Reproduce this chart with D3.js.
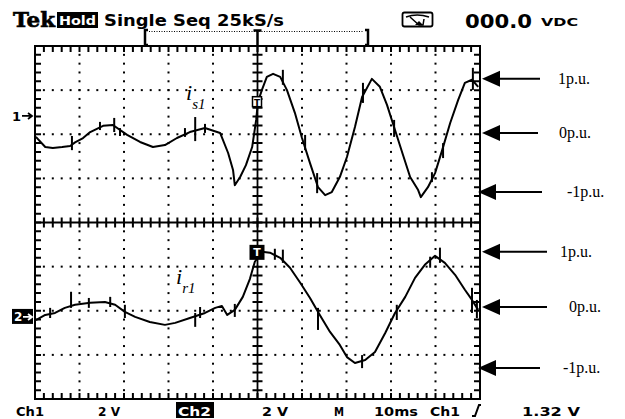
<!DOCTYPE html>
<html>
<head>
<meta charset="utf-8">
<script src="https://cdn.jsdelivr.net/npm/d3@7"></script>
<style>
  html, body { margin: 0; padding: 0; background: #fff; }
  svg { display: block; }
</style>
</head>
<body>
<svg id="scope" width="625" height="419"></svg>
<script>
// ---- acquisition settings (status line) ----
const timePerDiv = 10;     // ms / div
const voltsPerDiv = 2;     // V / div, both channels
const ch1Ground = 4.83;    // channel reference positions, screen volts
const ch2Ground = -4.28;

// ---- channel 1 : stator current i_s1  [time ms, volts from ch1 reference] ----
const ch1Trace = [
  [0.2,-0.95],[2.3,-1.41],[4.0,-1.45],[6.1,-1.41],[7.9,-1.36],[9.0,-1.2],[10.8,-1.0],
  [12.4,-0.73],[15.3,-0.45],[17.5,-0.41],[20.7,-0.86],[23.6,-1.18],[26.5,-1.41],
  [29.2,-1.32],[31.9,-1.0],[34.8,-0.73],[38.2,-0.55],[41.6,-0.77],[43.4,-1.68],
  [44.5,-2.45],[44.9,-3.14],[46.1,-2.77],[47.4,-2.23],[48.8,-1.41],[49.7,-0.18],
  [50.1,0.64],[51.0,1.18],[52.1,1.77],[53.5,1.91],[55.1,1.77],[56.6,1.18],[58.4,0.14],
  [60.0,-1.0],[61.8,-2.14],[63.6,-3.23],[65.2,-3.59],[66.7,-3.45],[68.5,-2.77],
  [70.1,-1.86],[71.9,-0.5],[73.5,0.86],[75.7,1.68],[77.5,1.32],[79.1,0.5],[80.9,-0.64],
  [82.7,-1.77],[84.3,-2.77],[86.1,-3.36],[86.7,-3.68],[88.3,-3.23],[89.9,-2.59],
  [91.5,-1.55],[93.3,-0.32],[95.1,0.73],[96.6,1.5],[98.2,1.64],[99.6,1.32]
];
// short noise spikes on channel 1 [time ms, upper V, lower V]
const ch1Spikes = [
  [8.3,-0.91,-1.55],[14.6,-0.27,-0.64],[17.8,-0.09,-0.73],[19.1,-0.55,-0.91],
  [33.7,-0.55,-0.95],[36.0,-0.05,-1.14],[38.2,-0.36,-0.77],[55.7,2.09,1.41],
  [60.7,-0.86,-1.55],[63.4,-2.59,-3.5],[73.7,1.5,0.59],[80.7,-0.18,-0.95],
  [89.2,-2.55,-3.0],[91.7,-1.23,-1.91],[98.4,2.18,1.18]
];

// ---- channel 2 : rotor current i_r1 ----
const ch2Trace = [
  [0.2,-0.14],[2.3,0.09],[4.5,0.18],[6.7,0.41],[9.0,0.55],[12.4,0.64],[15.7,0.68],
  [18.0,0.55],[20.2,0.23],[22.5,0.0],[25.8,-0.23],[29.2,-0.36],[31.5,-0.27],[34.8,-0.05],
  [38.2,0.18],[40.5,0.41],[42.0,0.5],[43.2,0.09],[44.9,0.32],[46.7,0.91],[48.3,1.73],
  [49.4,2.5],[51.0,2.95],[52.8,2.91],[55.1,2.68],[57.3,2.23],[59.6,1.55],[61.8,0.86],
  [64.0,0.09],[66.3,-0.68],[68.5,-1.27],[70.1,-1.82],[71.9,-2.09],[74.2,-1.95],
  [76.4,-1.59],[78.7,-0.73],[80.9,0.18],[83.2,0.91],[85.4,1.77],[87.6,2.36],[89.9,2.77],
  [92.1,2.45],[94.4,1.91],[96.6,1.23],[98.2,0.77],[99.6,0.32]
];
const ch2Spikes = [
  [3.4,0.41,-0.05],[8.1,1.14,0.41],[12.1,0.86,0.41],[16.9,0.91,0.45],[20.2,0.55,-0.05],
  [36.0,0.18,-0.45],[37.1,0.45,-0.05],[44.9,0.59,0.0],[53.9,3.09,2.59],[55.7,3.05,2.45],
  [63.6,0.41,-0.59],[73.5,-1.73,-2.32],[81.3,0.55,-0.14],[88.8,2.73,2.23],[91.0,3.14,2.45],
  [98.2,1.32,0.18],[99.3,0.77,-0.05]
];

// ---- per-unit reference arrows (volts from each channel reference) ----
const puLabels = ["1p.u.", "0p.u.", "-1p.u."];
const ch1PuLevels = [1.68, -0.77, -3.45];
const ch2PuLevels = [2.95, 0.45, -2.32];

// ---- status text ----
const headerText = ["Tek", "Hold", "Single Seq 25kS/s", "000.0", "VDC"];
const footerText = ["Ch1", "2 V", "Ch2", "2 V", "M", "10ms", "Ch1", "/", "1.32 V"];

// ---------------------------------------------------------------
const svg = d3.select("#scope");
const FONT = "'DejaVu Sans', sans-serif";
const frame = { left: 35, right: 480, top: 46, bottom: 399 };

const x = d3.scaleLinear().domain([0, 10 * timePerDiv]).range([frame.left, frame.right]);
const y = d3.scaleLinear().domain([-4 * voltsPerDiv, 4 * voltsPerDiv]).range([frame.bottom, frame.top]);

const minorX = d3.range(0, 10 * timePerDiv + 0.001, timePerDiv / 5);
const minorY = d3.range(-4 * voltsPerDiv, 4 * voltsPerDiv + 0.001, voltsPerDiv / 5);
const majorX = d3.range(timePerDiv, 10 * timePerDiv, timePerDiv).filter(d => d !== 5 * timePerDiv);
const majorY = d3.range(-3 * voltsPerDiv, 4 * voltsPerDiv, voltsPerDiv).filter(d => d !== 0);

// dotted graticule
const grid = svg.append("g").attr("fill", "#000");
majorX.forEach(t => {
  grid.selectAll(null).data(minorY.slice(1, -1)).join("rect")
    .attr("x", x(t) - 1).attr("y", d => y(d) - 1).attr("width", 2).attr("height", 2);
});
majorY.forEach(v => {
  grid.selectAll(null).data(minorX.slice(1, -1)).join("rect")
    .attr("x", d => x(d) - 1).attr("y", y(v) - 1).attr("width", 2).attr("height", 2);
});

// graticule tick marks along the frame and the centre crosshair
const cx = x(5 * timePerDiv), cy = y(0);
const tickPath = [
  minorX.map(d => `M${x(d)},${frame.top}v6`).join(""),
  minorX.map(d => `M${x(d)},${frame.bottom}v-6`).join(""),
  minorY.map(d => `M${frame.left},${y(d)}h6`).join(""),
  minorY.map(d => `M${frame.right},${y(d)}h-6`).join(""),
  minorX.map(d => `M${x(d)},${cy - 5}v10`).join(""),
  minorY.map(d => `M${cx - 5},${y(d)}h10`).join("")
].join("");
svg.append("path").attr("d", tickPath)
  .attr("fill", "none").attr("stroke", "#000").attr("stroke-width", 2);

svg.append("line").attr("x1", frame.left).attr("x2", frame.right)
  .attr("y1", cy).attr("y2", cy).attr("stroke", "#000").attr("stroke-width", 1.8);
svg.append("line").attr("x1", cx).attr("x2", cx)
  .attr("y1", frame.top).attr("y2", frame.bottom).attr("stroke", "#000").attr("stroke-width", 1.8);
svg.append("rect")
  .attr("x", frame.left).attr("y", frame.top)
  .attr("width", frame.right - frame.left).attr("height", frame.bottom - frame.top)
  .attr("fill", "none").attr("stroke", "#000").attr("stroke-width", 2);

// traces
function drawTrace(points, spikes, ground) {
  const line = d3.line().x(d => x(d[0])).y(d => y(d[1] + ground));
  svg.append("path").datum(points).attr("d", line)
    .attr("fill", "none").attr("stroke", "#000").attr("stroke-width", 2)
    .attr("stroke-linejoin", "round");
  svg.append("g").selectAll("line").data(spikes).join("line")
    .attr("x1", d => x(d[0])).attr("x2", d => x(d[0]))
    .attr("y1", d => y(d[1] + ground)).attr("y2", d => y(d[2] + ground))
    .attr("stroke", "#000").attr("stroke-width", 2);
}
drawTrace(ch1Trace, ch1Spikes, ch1Ground);
drawTrace(ch2Trace, ch2Spikes, ch2Ground);

// trigger-point markers on the traces
const trigT = 5 * timePerDiv;
svg.append("rect").attr("x", x(trigT) - 5).attr("y", y(ch1Ground + 0.6) - 6)
  .attr("width", 9).attr("height", 10).attr("fill", "#fff").attr("stroke", "#000").attr("stroke-width", 1.5);
svg.append("text").attr("x", x(trigT) - 0.5).attr("y", y(ch1Ground + 0.6) + 3)
  .attr("text-anchor", "middle").attr("font-family", FONT).attr("font-weight", "bold")
  .attr("font-size", 9).text("T");
svg.append("rect").attr("x", x(trigT) - 8).attr("y", y(ch2Ground + 2.95) - 7)
  .attr("width", 15).attr("height", 15).attr("fill", "#000");
svg.append("text").attr("x", x(trigT) - 0.5).attr("y", y(ch2Ground + 2.95) + 4)
  .attr("text-anchor", "middle").attr("font-family", FONT).attr("font-weight", "bold")
  .attr("font-size", 11).attr("fill", "#fff").text("T");

// channel reference markers
svg.append("text").attr("x", 12).attr("y", y(ch1Ground) + 5)
  .attr("font-family", FONT).attr("font-weight", "bold").attr("font-size", 13).text("1");
svg.append("path")
  .attr("d", `M22,${y(ch1Ground)} H31 M28,${y(ch1Ground) - 3} L32,${y(ch1Ground)} L28,${y(ch1Ground) + 3}`)
  .attr("fill", "none").attr("stroke", "#000").attr("stroke-width", 1.8);
svg.append("rect").attr("x", 12).attr("y", y(ch2Ground) - 8).attr("width", 21).attr("height", 15).attr("fill", "#000");
svg.append("text").attr("x", 14).attr("y", y(ch2Ground) + 4.5)
  .attr("font-family", FONT).attr("font-weight", "bold").attr("font-size", 12).attr("fill", "#fff").text("2");
svg.append("path")
  .attr("d", `M23,${y(ch2Ground)} H31 M28,${y(ch2Ground) - 3} L32,${y(ch2Ground)} L28,${y(ch2Ground) + 3}`)
  .attr("fill", "none").attr("stroke", "#fff").attr("stroke-width", 1.8);

// trace labels
function traceLabel(px, py, sub) {
  const t = svg.append("text").attr("x", px).attr("y", py)
    .attr("font-family", "'Liberation Serif', serif").attr("font-style", "italic");
  t.append("tspan").attr("font-size", 22).text("i");
  t.append("tspan").attr("font-size", 15).attr("dy", 9).text(sub);
}
traceLabel(186, 100, "s1");
traceLabel(176, 284, "r1");

// per-unit arrows at right
const arrowLayout = [
  { tip: 482, end: 540, lx: 558 }, { tip: 482, end: 538, lx: 559 }, { tip: 478, end: 542, lx: 567 },
  { tip: 482, end: 547, lx: 560 }, { tip: 482, end: 547, lx: 569 }, { tip: 478, end: 540, lx: 563 }
];
const arrows = ch1PuLevels.map((v, i) => ({ yv: v + ch1Ground, label: puLabels[i] }))
  .concat(ch2PuLevels.map((v, i) => ({ yv: v + ch2Ground, label: puLabels[i] })));
arrows.forEach((a, i) => {
  const L = arrowLayout[i], py = y(a.yv);
  svg.append("path").attr("d", `M${L.tip},${py} L${L.tip + 18},${py - 8} L${L.tip + 18},${py + 8} Z`).attr("fill", "#000");
  svg.append("line").attr("x1", L.tip + 17).attr("x2", L.end).attr("y1", py).attr("y2", py)
    .attr("stroke", "#000").attr("stroke-width", 2);
  svg.append("text").attr("x", L.lx).attr("y", py + 5)
    .attr("font-family", "'Liberation Serif', serif").attr("font-size", 16).text(a.label);
});

// trigger position bar above the graticule
const bar = svg.append("g").attr("stroke", "#000");
bar.append("path").attr("d", "M148,30 H145 V45 H148").attr("fill", "none").attr("stroke-width", 2.5);
bar.append("path").attr("d", "M365,30 H368 V45 H365").attr("fill", "none").attr("stroke-width", 2.5);
bar.append("line").attr("x1", 149).attr("x2", 364).attr("y1", 31.5).attr("y2", 31.5)
  .attr("stroke-width", 1).attr("stroke-dasharray", "1,1.5");
bar.append("path").attr("d", `M${x(trigT) - 4},30.5 H${x(trigT) + 4} M${x(trigT)},30 V46`).attr("stroke-width", 2.5);

// header
function bold(txt, px, py, size, len, fill) {
  return svg.append("text").attr("x", px).attr("y", py).attr("font-family", FONT)
    .attr("font-weight", "bold").attr("font-size", size).attr("fill", fill || "#000")
    .attr("textLength", len).attr("lengthAdjust", "spacingAndGlyphs").text(txt);
}
svg.append("text").attr("x", 13).attr("y", 27).attr("font-family", "'DejaVu Serif', serif")
  .attr("font-weight", "900").attr("font-size", 20).attr("textLength", 42)
  .attr("stroke", "#000").attr("stroke-width", 0.6)
  .attr("lengthAdjust", "spacingAndGlyphs").text(headerText[0]);
svg.append("rect").attr("x", 57).attr("y", 12).attr("width", 41).attr("height", 16).attr("fill", "#000");
bold(headerText[1], 59, 25, 13, 37, "#fff");
bold(headerText[2], 104, 26, 15, 180);
// meter icon
svg.append("rect").attr("x", 402.5).attr("y", 12.5).attr("width", 30).attr("height", 14).attr("rx", 2)
  .attr("fill", "none").attr("stroke", "#000").attr("stroke-width", 1.8);
svg.append("path").attr("d", "M406,17 Q417,13 429,17 M410,17 L419,25 L423,25 L424,19")
  .attr("fill", "none").attr("stroke", "#000").attr("stroke-width", 1.5);
svg.append("path").attr("d", "M415,25 L419,21 L423,25 Z").attr("fill", "#000");
bold(headerText[3], 465, 28, 19, 67);
bold(headerText[4], 541, 26, 11, 37);

// footer status line
const fy = 416;
bold(footerText[0], 16, fy, 13, 28);
bold(footerText[1], 98, fy, 13, 22);
svg.append("rect").attr("x", 176).attr("y", 402).attr("width", 38).attr("height", 16).attr("fill", "#000");
bold(footerText[2], 178, fy, 13, 33, "#fff");
bold(footerText[3], 262, fy, 13, 26);
bold(footerText[4], 334, fy, 13, 10);
bold(footerText[5], 374, fy, 13, 44);
bold(footerText[6], 430, fy, 13, 30);
svg.append("path").attr("d", "M472,416 H475 L479,405 H481").attr("fill", "none")
  .attr("stroke", "#000").attr("stroke-width", 2);
bold(footerText[8], 522, fy, 13, 58);
</script>
</body>
</html>
